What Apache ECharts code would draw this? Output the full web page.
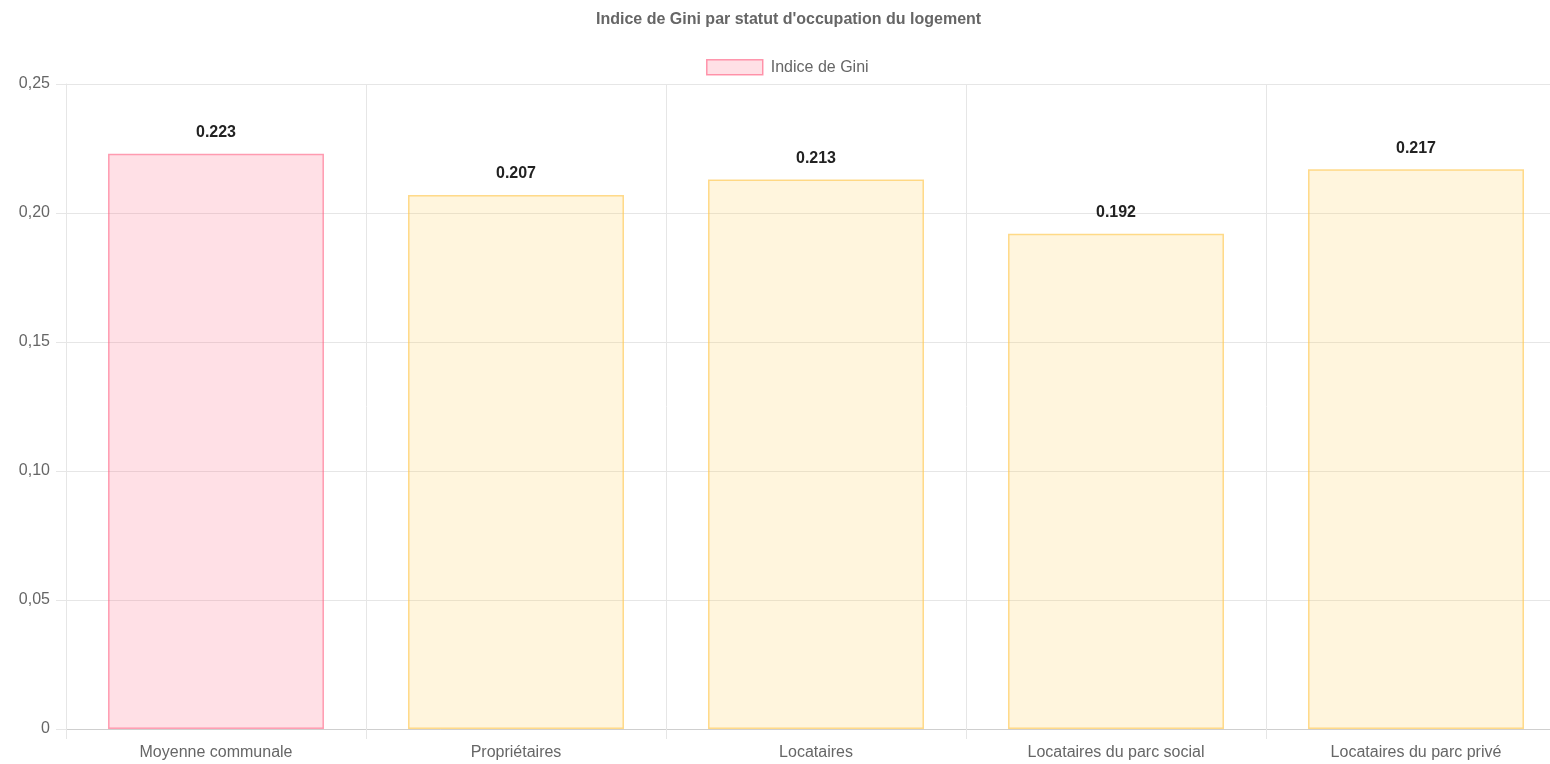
<!DOCTYPE html>
<html>
<head>
<meta charset="utf-8">
<script src="https://cdn.jsdelivr.net/npm/echarts@6/dist/echarts.min.js"></script>
<style>
  html, body { margin: 0; padding: 0; background: #fff; overflow: hidden; }
  #main { width: 1566px; height: 764px; }
</style>
</head>
<body>
<div id="main"></div>
<script>
// données
const categories = ["Moyenne communale", "Propriétaires", "Locataires", "Locataires du parc social", "Locataires du parc privé"];
const giniValues = [0.223, 0.207, 0.213, 0.192, 0.217];
const yTicks = [0, 0.05, 0.10, 0.15, 0.20, 0.25];

const FONT = "'Liberation Sans', Arial, Helvetica, sans-serif";

// le graphique déborde un peu à droite (comme la référence)
let myChart = echarts.init(document.getElementById("main"));

// première barre en rose, les autres en jaune
let barData = giniValues.map((v, i) => ({
  value: v,
  itemStyle: i === 0
    ? { color: "rgba(255,99,132,0.2)", borderColor: "rgba(255,99,132,0.6)" }
    : { color: "rgba(255,206,86,0.2)", borderColor: "rgba(255,200,80,0.65)" }
}));

let option = {
  animation: false,
  textStyle: { fontFamily: FONT },
  title: {
    text: "Indice de Gini par statut d'occupation du logement",
    left: 591,
    top: 7,
    textStyle: { fontSize: 16, fontWeight: "bold", color: "#666", fontFamily: FONT }
  },
  legend: {
    top: 54,
    left: 701,
    itemWidth: 56,
    itemHeight: 15,
    itemGap: 10,
    textStyle: { fontSize: 16, color: "#666", fontFamily: FONT, padding: [0, 0, 0, 3] },
    data: [{
      name: "Indice de Gini",
      icon: "rect",
      itemStyle: { color: "rgba(255,99,132,0.2)", borderColor: "rgba(255,99,132,0.65)", borderWidth: 1.5 }
    }]
  },
  grid: { left: 66, right: 0, top: 84, bottom: 35, containLabel: false },
  xAxis: {
    type: "category",
    data: categories,
    boundaryGap: true,
    axisLine: { lineStyle: { color: "#cfcfcf" } },
    axisTick: { show: true, length: 10, lineStyle: { color: "#e6e6e6" } },
    axisLabel: { color: "#666", fontSize: 16, margin: 16, fontFamily: FONT },
    splitLine: { show: true, lineStyle: { color: "#e6e6e6" } }
  },
  yAxis: {
    type: "value",
    min: yTicks[0],
    max: yTicks[yTicks.length - 1],
    interval: 0.05,
    axisLine: { show: true, lineStyle: { color: "#e6e6e6" } },
    axisTick: { show: true, length: 10, lineStyle: { color: "#e6e6e6" } },
    axisLabel: {
      color: "#666",
      fontSize: 16,
      margin: 16,
      fontFamily: FONT,
      formatter: v => v === 0 ? "0" : v.toFixed(2).replace(".", ",")
    },
    splitLine: { lineStyle: { color: "#e6e6e6" } }
  },
  series: [{
    name: "Indice de Gini",
    type: "bar",
    barWidth: "72%",
    data: barData,
    itemStyle: { borderWidth: 1.5 },
    label: {
      show: true,
      position: "top",
      distance: 13,
      color: "#222",
      fontSize: 16,
      fontWeight: "bold",
      fontFamily: FONT,
      formatter: p => String(p.value)
    }
  }]
};

myChart.setOption(option);
</script>
</body>
</html>
